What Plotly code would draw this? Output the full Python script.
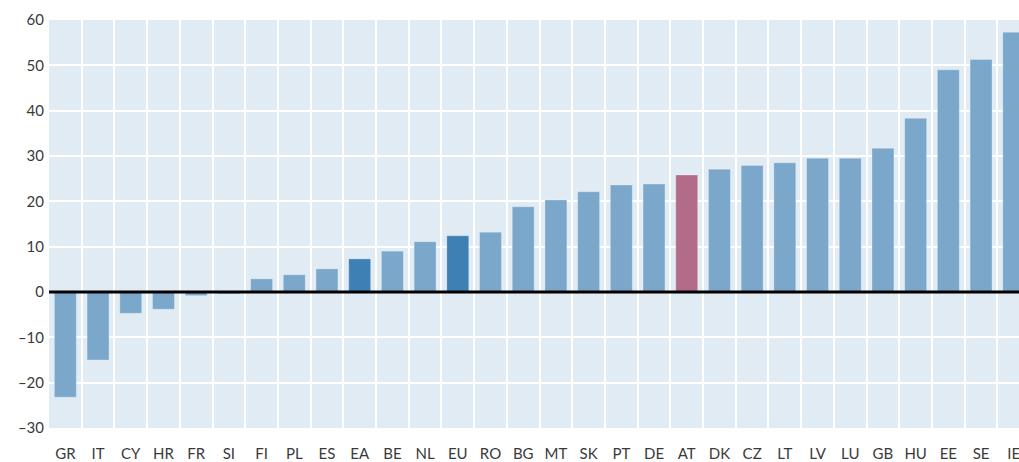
import plotly.graph_objects as go

countries = ['GR', 'IT', 'CY', 'HR', 'FR', 'SI', 'FI', 'PL', 'ES', 'EA',
             'BE', 'NL', 'EU', 'RO', 'BG', 'MT', 'SK', 'PT', 'DE', 'AT',
             'DK', 'CZ', 'LT', 'LV', 'LU', 'GB', 'HU', 'EE', 'SE', 'IE']
values = [-23.2, -15.0, -4.7, -3.8, -0.8, -0.4, 2.9, 3.8, 5.1, 7.3,
          9.0, 11.1, 12.4, 13.2, 18.8, 20.3, 22.1, 23.6, 23.8, 25.8,
          27.1, 27.9, 28.5, 29.5, 29.5, 31.7, 38.3, 49.0, 51.3, 57.3]
aggregates = ['EA', 'EU']
highlight = 'AT'

y_ticks = [-30, -20, -10, 0, 10, 20, 30, 40, 50, 60]

# bar colours: aggregates darker, Austria highlighted
colors = []
for c in countries:
    if c == highlight:
        colors.append('#B26C89')
    elif c in aggregates:
        colors.append('#3E80B3')
    else:
        colors.append('#7BA7CB')

fig = go.Figure(go.Bar(
    x=countries, y=values,
    marker=dict(color=colors, line=dict(color='rgba(255,255,255,0.25)', width=1)),
    width=0.67,
))

fig.update_layout(
    width=1019, height=462,
    margin=dict(l=49, r=0, t=20, b=34),
    paper_bgcolor='white',
    plot_bgcolor='#E1EBF4',
    showlegend=False,
    font=dict(family='Lato, Open Sans, sans-serif', size=15, color='#3a3a3a'),
)
fig.update_xaxes(
    range=[-0.5, 29.16],
    tickson='boundaries', ticks='',
    showgrid=True, gridcolor='white', gridwidth=2,
    showline=False, zeroline=False,
    automargin=False, ticklabelstandoff=15,
    tickfont=dict(size=15),
)
fig.update_yaxes(
    range=[-30, 60],
    tickvals=y_ticks,
    ticktext=[str(v).replace('-', '\u2013') for v in y_ticks],
    showgrid=True, gridcolor='white', gridwidth=2,
    zeroline=False, showline=False, ticks='',
    automargin=False, ticklabelstandoff=4,
    tickfont=dict(size=15),
)
fig.add_shape(type='line', xref='paper', yref='y', x0=0, x1=1, y0=0, y1=0,
              line=dict(color='black', width=3), layer='above')

# drop the default page margin so the figure fills the window
fig.write_html("out.html",
               config={'displayModeBar': False},
               post_script="document.body.style.margin='0';document.body.style.overflow='hidden';")
